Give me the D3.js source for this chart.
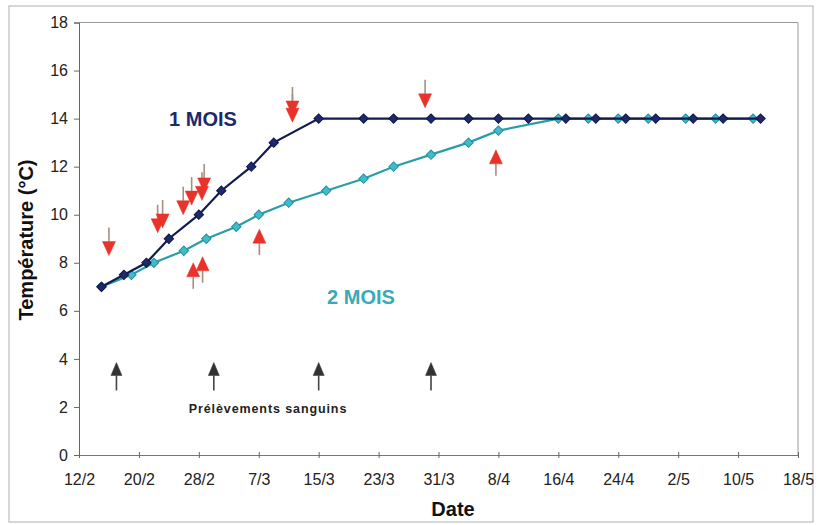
<!DOCTYPE html>
<html><head><meta charset="utf-8">
<script src="https://cdn.jsdelivr.net/npm/d3@7"></script>
<style>
html,body{margin:0;padding:0;background:#fff;}
svg{display:block;font-family:Arial,"Liberation Sans",sans-serif;}
</style></head>
<body>
<svg id="chart" width="818" height="525"></svg>
<script>
// ---- Data ----
const year = "2004";
const darkDates = ["15/02","18/02","21/02","24/02","28/02","02/03","06/03","09/03","15/03","21/03","25/03","30/03","04/04","08/04","12/04","17/04","21/04","25/04","29/04","04/05","08/05","13/05"];
const darkValues = [7,7.5,8,9,10,11,12,13,14,14,14,14,14,14,14,14,14,14,14,14,14,14];
const lightDates = ["15/02","19/02","22/02","26/02","29/02","04/03","07/03","11/03","16/03","21/03","25/03","30/03","04/04","08/04","16/04","20/04","24/04","28/04","03/05","07/05","12/05"];
const lightValues = [7,7.5,8,8.5,9,9.5,10,10.5,11,11.5,12,12.5,13,13.5,14,14,14,14,14,14,14];
// red arrows: date (dd/mm hh), temperature at tip
const downDates = ["16/02 00","22/02 12","23/02 04","25/02 22","27/02 01","28/02 10","28/02 17","11/03 12","11/03 12","29/03 05"];
const downValues = [8.3,9.25,9.45,10.0,10.4,10.6,10.95,13.85,14.15,14.45];
const upDates = ["27/02 06","28/02 12","07/03 02","07/04 16"];
const upValues = [8.0,8.25,9.4,12.7];
// blood sampling arrows
const sampleDates = ["17/02 00","01/03 00","15/03 00","30/03 00"];
const sampleValue = 3.85;
const xTickLabels = ["12/2","20/2","28/2","7/3","15/3","23/3","31/3","8/4","16/4","24/4","2/5","10/5","18/5"];
const yTicks = [0,2,4,6,8,10,12,14,16,18];

// ---- Setup ----
const parseD = d3.timeParse("%d/%m/%Y");
const parseDH = d3.timeParse("%d/%m/%Y %H");
const pd = s => parseD(s + "/" + year);
const pdh = s => { const [d,h] = s.split(" "); return parseDH(d + "/" + year + " " + h); };
const pTick = s => { const [d,m] = s.split("/"); return parseD(d.padStart(2,"0")+"/"+m.padStart(2,"0")+"/"+year); };

const L = 79, R = 798, T = 22.5, B = 455;
const x = d3.scaleTime().domain([pTick("12/2"), pTick("18/5")]).range([L, R]);
const y = d3.scaleLinear().domain([0,18]).range([B, T]);

const svg = d3.select("#chart");
const darkCol = "#1c2a6b", darkLine = "#121a50";
const lightCol = "#3cbccc", lightLine = "#2a9ea8";
const red = "#e8322a", shaftCol = "#a88e80";

// outer frame
svg.append("rect").attr("x",9).attr("y",6).attr("width",804).attr("height",516)
  .attr("fill","none").attr("stroke","#b8bec4").attr("stroke-width",1.2);

// plot border (top/right)
svg.append("path").attr("d",`M${L},${T}H${R}V${B}`).attr("fill","none").attr("stroke","#9a9a9a").attr("stroke-width",1);

// y axis
const yAxis = d3.axisLeft(y).tickValues(yTicks).tickSize(5).tickPadding(6).tickFormat(d3.format("d"));
const gy = svg.append("g").attr("transform",`translate(${L},0)`).call(yAxis);
gy.select(".domain").attr("stroke","#666");
gy.selectAll(".tick line").attr("stroke","#666");
gy.selectAll(".tick text").attr("font-size",16).attr("fill","#222").attr("font-family","Arial, 'Liberation Sans', sans-serif");

// x axis
const xTickDates = xTickLabels.map(pTick);
const xAxis = d3.axisBottom(x).tickValues(xTickDates).tickSize(3).tickPadding(16)
  .tickFormat((d,i) => xTickLabels[i]);
const gx = svg.append("g").attr("transform",`translate(0,${B})`).call(xAxis);
gx.select(".domain").attr("stroke","#777");
gx.selectAll(".tick line").attr("stroke","#666").attr("y1",-3).attr("y2",3);
gx.selectAll(".tick text").attr("font-size",16).attr("fill","#222").attr("font-family","Arial, 'Liberation Sans', sans-serif");

// axis titles
svg.append("text").attr("x",453).attr("y",516).attr("text-anchor","middle")
  .attr("font-size",20).attr("font-weight","bold").attr("fill","#111").text("Date");
svg.append("text").attr("transform","translate(33,240) rotate(-90)").attr("text-anchor","middle")
  .attr("font-size",20).attr("font-weight","bold").attr("fill","#111").text("Température (°C)");

// series
const dark = darkDates.map((d,i)=>({date:pd(d), v:darkValues[i]}));
const light = lightDates.map((d,i)=>({date:pd(d), v:lightValues[i]}));
const line = d3.line().x(d=>x(d.date)).y(d=>y(d.v));
const sym = d3.symbol().type(d3.symbolSquare).size(44);

function drawSeries(data, lc, fc, sc){
  svg.append("path").datum(data).attr("d",line).attr("fill","none").attr("stroke",lc).attr("stroke-width",2.2);
  svg.append("g").selectAll("path").data(data).join("path")
    .attr("d",sym).attr("transform",d=>`translate(${x(d.date)},${y(d.v)}) rotate(45)`)
    .attr("fill",fc).attr("stroke",sc).attr("stroke-width",1);
}
drawSeries(light, lightLine, lightCol, "#2a8e9a");
drawSeries(dark, darkLine, darkCol, "#101848");

// series labels
svg.append("text").attr("x",203).attr("y",126).attr("text-anchor","middle")
  .attr("font-size",20).attr("font-weight","bold").attr("fill","#1c2a6b").text("1 MOIS");
svg.append("text").attr("x",361).attr("y",304).attr("text-anchor","middle")
  .attr("font-size",20).attr("font-weight","bold").attr("fill","#3aaab8").text("2 MOIS");

// arrows
function arrow(g, px, tipY, dir, headW, headH, shaft, headCol, sCol){
  // dir = 1: pointing down (tip below), -1: pointing up
  const baseY = tipY - dir*headH;
  g.append("line").attr("x1",px).attr("x2",px).attr("y1",baseY).attr("y2",baseY - dir*shaft)
    .attr("stroke",sCol).attr("stroke-width",1.6);
  g.append("path").attr("d",`M${px},${tipY}L${px-headW/2},${baseY}L${px+headW/2},${baseY}Z`)
    .attr("fill",headCol).attr("stroke",headCol).attr("stroke-width",0.5).attr("stroke-linejoin","round");
}
const ga = svg.append("g");
downDates.forEach((d,i)=>arrow(ga, x(pdh(d)), y(downValues[i]), 1, 13, 14, 14, red, shaftCol));
upDates.forEach((d,i)=>arrow(ga, x(pdh(d)), y(upValues[i]), -1, 13, 14, 12, red, shaftCol));
sampleDates.forEach(d=>arrow(ga, x(pdh(d)), y(sampleValue), -1, 11, 13, 15, "#333", "#444"));

svg.append("text").attr("x",268).attr("y",413).attr("text-anchor","middle")
  .attr("font-size",12.5).attr("font-weight","bold").attr("letter-spacing",0.9).attr("fill","#222")
  .text("Prélèvements sanguins");
</script>
</body></html>
